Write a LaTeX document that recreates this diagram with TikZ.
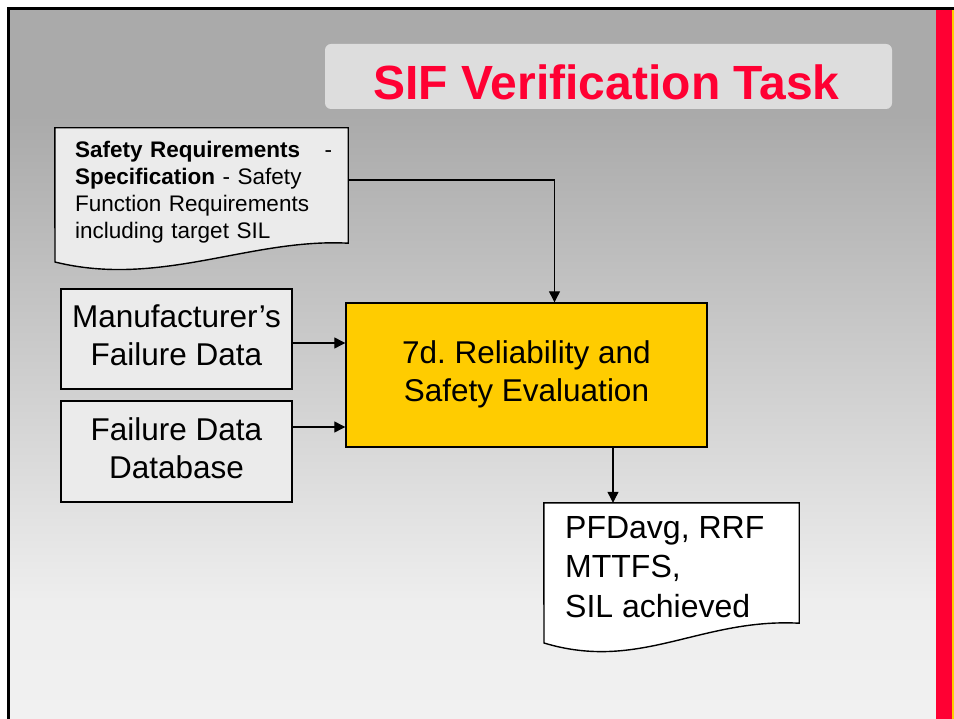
\documentclass[tikz,border=0pt]{standalone}
\usepackage{fontspec}
\setmainfont{Liberation Sans}
\usetikzlibrary{arrows.meta}
\frenchspacing
\definecolor{sifred}{HTML}{FF0033}
\definecolor{sifyellow}{HTML}{FFCC00}
\definecolor{bgtop}{HTML}{AAAAAA}
\definecolor{bgmid}{HTML}{EEEEEE}
\definecolor{bgbot}{HTML}{F1F1F1}
\definecolor{titlegray}{HTML}{DDDDDD}
\definecolor{boxgray}{HTML}{EBEBEB}
\tikzset{
  box/.style={draw=black, line width=1.4pt, fill=boxgray, align=center,
    inner sep=0pt, font=\fontsize{31.5}{38}\selectfont},
  mainbox/.style={box, fill=sifyellow},
  docarea/.style={inner sep=0pt},
  docline/.style={draw=black, line width=1.4pt},
  conn/.style={draw=black, line width=1.2pt, -{Triangle[length=11pt,width=11pt]}},
}
\begin{document}
\begin{tikzpicture}[x=1pt,y=-1pt]
\useasboundingbox (0,0) rectangle (954,719);
\fill[white] (0,0) rectangle (954,719);
% background gradient
\fill[bgtop] (10,10) rectangle (936,116);
\shade[top color=bgtop, bottom color=bgmid] (10,115) rectangle (936,601);
\shade[top color=bgmid, bottom color=bgbot] (10,600) rectangle (936,719);
% frame lines
\fill[black] (7,7) rectangle (954,10);
\fill[black] (7,7) rectangle (10,719);
\fill[sifred] (936,10) rectangle (952,719);
\fill[sifyellow] (952,10) rectangle (954,719);
% title
\node[fill=titlegray, rounded corners=6pt, minimum width=567pt, minimum height=65pt, inner sep=0pt] (titlebox) at (608.5,76.5) {};
\node[anchor=base, inner sep=0pt, text=sifred, font=\fontsize{48}{58}\selectfont\bfseries] (title) at (606.5,100) {SIF Verification Task};
% safety requirements document
\node[docarea, minimum width=293pt, minimum height=115pt] (srs) at (201.5,185.5) {};
\path[docline, fill=boxgray] (srs.south east) -- (srs.north east) -- (srs.north west) -- (55,262)
  .. controls (160,288) and (250,238) .. (srs.south east) -- cycle;
\node[anchor=north west, inner sep=0pt, text width=257pt, align=left,
  font=\fontsize{22.5}{27}\selectfont] (srstext) at (75,138.1)
  {\strut\textbf{Safety Requirements}\hfill-\\
   \strut\textbf{Specification} - Safety\\
   \strut Function Requirements\\
   \strut including target SIL};
% input boxes
\node[box, minimum width=231pt, minimum height=100pt] (mfd) at (176.5,339)
  {\strut Manufacturer’s\\\strut Failure Data};
\node[box, minimum width=231pt, minimum height=101pt] (dbx) at (176.5,451.5)
  {\strut Failure Data\\\strut Database};
% main box
\node[mainbox, minimum width=361pt, minimum height=144pt] (rse) at (526.5,375)
  {\strut 7d. Reliability and\\\strut Safety Evaluation};
% output document
\node[docarea, minimum width=255pt, minimum height=120pt] (out) at (671.5,563) {};
\path[docline, fill=white] (out.south east) -- (out.north east) -- (out.north west) -- (544,643)
  .. controls (640,672) and (700,618) .. (out.south east) -- cycle;
\node[anchor=north west, inner sep=0pt, align=left,
  font=\fontsize{32}{39.5}\selectfont] (outtext) at (565,510.3)
  {\strut PFDavg, RRF\\\strut MTTFS,\\\strut SIL achieved};
% connectors
\draw[conn] ([yshift=5.5pt]srs.east) -| ([xshift=28pt]rse.north);
\draw[conn] ([yshift=-4pt]mfd.east) -- ([yshift=-4pt]mfd.east -| rse.west);
\draw[conn] ([yshift=24.5pt]dbx.east) -- ([yshift=24.5pt]dbx.east -| rse.west);
\draw[conn] ([xshift=86.5pt]rse.south) -- ([xshift=86.5pt]rse.south |- out.north);
\end{tikzpicture}
\end{document}
